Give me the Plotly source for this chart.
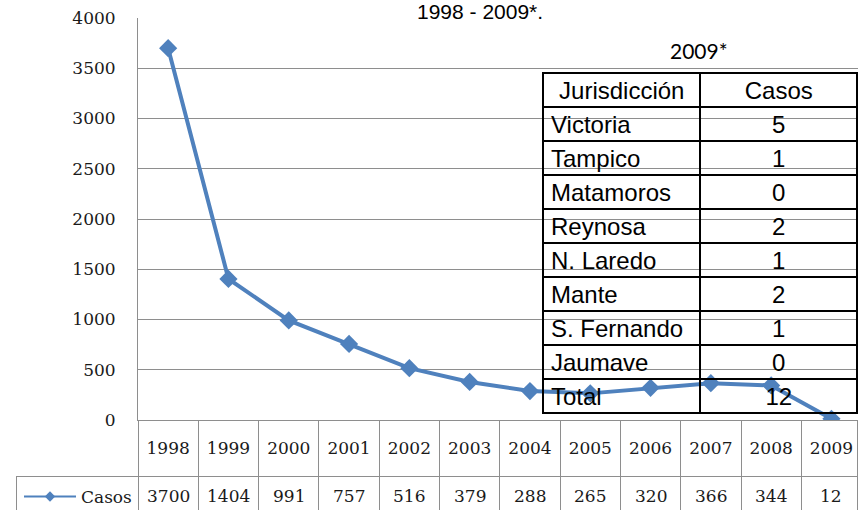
import plotly.graph_objects as go

# Serie anual
years = ["1998", "1999", "2000", "2001", "2002", "2003",
         "2004", "2005", "2006", "2007", "2008", "2009"]
casos = [3700, 1404, 991, 757, 516, 379, 288, 265, 320, 366, 344, 12]

# Tabla 2009* por jurisdiccion
jurisdicciones = ["Victoria", "Tampico", "Matamoros", "Reynosa", "N. Laredo",
                  "Mante", "S. Fernando", "Jaumave", "Total"]
casos_2009 = [5, 1, 0, 2, 1, 2, 1, 0, 12]

W, H = 858, 510
PLOT_L, PLOT_T, PLOT_B = 138, 18, 420
CAT_W = 60.3
BLUE = "#4F81BD"
GRID = "#8e8e8e"
SERIF = "DejaVu Serif"
SANS = "Liberation Sans"

fig = go.Figure()

fig.add_trace(go.Scatter(
    x=years, y=casos, name="Casos", showlegend=False,
    mode="lines+markers",
    line=dict(color=BLUE, width=4),
    marker=dict(symbol="diamond", size=14, color=BLUE),
))
# legend key only (smaller, like the data-table key)
fig.add_trace(go.Scatter(
    x=[None], y=[None], name="Casos",
    mode="lines+markers",
    line=dict(color=BLUE, width=2),
    marker=dict(symbol="diamond", size=8, color=BLUE),
))

# data table grid under the axis; years come from the x axis labels
fig.add_trace(go.Table(
    domain=dict(x=[16 / W, 1], y=[0, (H - PLOT_B) / H]),
    columnwidth=[PLOT_L - 16] + [CAT_W] * 11 + [W - PLOT_L - 11 * CAT_W],
    header=dict(
        values=[""] * 13,
        height=56,
        fill_color="rgba(0,0,0,0)",
        line=dict(color=["rgba(0,0,0,0)"] + [GRID] * 12, width=1),
    ),
    cells=dict(
        values=[[""]] * 13,
        height=34,
        fill_color="rgba(0,0,0,0)",
        line=dict(color=GRID, width=1),
    ),
))

# values row of the data table, placed on the category axis (by index)
for i, v in enumerate(casos):
    fig.add_annotation(text=str(v), x=i, xref="x", y=(H - 496) / H, yref="paper",
                       showarrow=False, xanchor="center", yanchor="middle",
                       font=dict(family=SERIF, size=17, color="#1a1a1a"))

# inset table 2009*
fig.add_trace(go.Table(
    domain=dict(x=[543 / W, 1], y=[(H - 414) / H, (H - 73) / H]),
    columnwidth=[158, 157],
    header=dict(
        values=["Jurisdicción", "Casos"],
        height=34,
        fill_color="rgba(0,0,0,0)",
        line=dict(color="black", width=2),
        font=dict(family=SANS, size=24, color="black"),
        align="center",
    ),
    cells=dict(
        values=[jurisdicciones, casos_2009],
        height=34,
        fill_color="rgba(0,0,0,0)",
        line=dict(color="black", width=2),
        font=dict(family=SANS, size=24, color="black"),
        align=["left", "center"],
    ),
))

fig.add_annotation(text="1998 - 2009*.", xref="paper", yref="paper",
                   x=480 / W, y=1 - 11 / H, showarrow=False,
                   xanchor="center", yanchor="middle",
                   font=dict(family=SANS, size=21, color="black"))
fig.add_annotation(text="2009*", xref="paper", yref="paper",
                   x=699 / W, y=1 - 51 / H, showarrow=False,
                   xanchor="center", yanchor="middle",
                   font=dict(family="Lato", size=21, color="black"))

fig.update_xaxes(
    type="category", domain=[PLOT_L / W, 1], automargin=False,
    range=[-0.5, -0.5 + (W - PLOT_L) / CAT_W],
    showgrid=False,
    ticks="outside", ticklen=13, tickcolor="rgba(0,0,0,0)",
    tickfont=dict(family=SERIF, size=17, color="#1a1a1a"),
    showline=True, linecolor=GRID, linewidth=1,
)
fig.update_yaxes(
    domain=[(H - PLOT_B) / H, (H - PLOT_T) / H], automargin=False,
    range=[0, 4000], dtick=500,
    showgrid=True, gridcolor=GRID, gridwidth=1, zeroline=False,
    showline=True, linecolor=GRID, linewidth=1,
    ticks="outside", ticklen=18, tickcolor="rgba(0,0,0,0)",
    tickfont=dict(family=SERIF, size=17, color="#1a1a1a"),
)

fig.update_layout(
    width=W, height=H,
    margin=dict(l=0, r=0, t=0, b=0, autoexpand=False),
    paper_bgcolor="white", plot_bgcolor="white",
    showlegend=True,
    legend=dict(x=19 / W, y=(H - 497) / H, xanchor="left", yanchor="middle",
                itemwidth=52, bgcolor="rgba(0,0,0,0)",
                font=dict(family=SERIF, size=17, color="#1a1a1a")),
)

# no page margin, so the figure fills the window exactly
fig.write_html("out.html", config={"displayModeBar": False},
               post_script="document.body.style.margin = '0';")
